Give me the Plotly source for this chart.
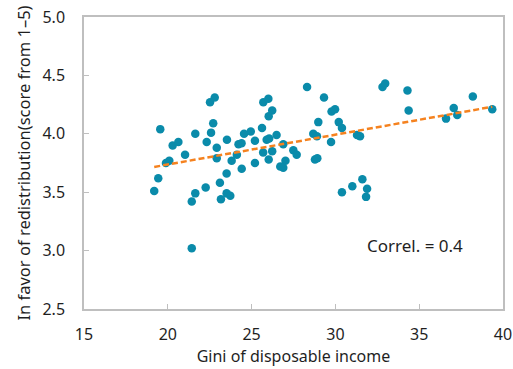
import numpy as np
import plotly.graph_objects as go

gini = [19.19, 19.43, 19.55, 19.89, 20.09, 20.29, 20.63, 21.03, 21.43, 21.43,
        21.64, 21.64, 22.26, 22.32, 22.52, 22.80, 22.58, 22.71, 22.92, 22.92,
        23.11, 23.17, 23.51, 23.51, 23.73, 23.53, 23.81, 24.12, 24.22, 24.40,
        24.41, 24.55, 24.95, 25.20, 25.20, 25.62, 25.70, 26.00, 26.23, 26.02,
        25.90, 26.05, 25.69, 26.23, 26.02, 26.49, 26.89, 27.02, 26.71, 26.89,
        27.49, 27.69, 28.31, 29.32, 28.98, 28.68, 28.90, 28.78, 28.92, 29.74,
        29.77, 29.98, 30.20, 30.39, 31.29, 31.47, 30.39, 31.01, 31.61, 31.89,
        31.83, 32.81, 32.97, 34.30, 34.37, 36.60, 37.06, 37.27, 38.20, 39.36]
redistribution = [3.51, 3.62, 4.04, 3.75, 3.77, 3.90, 3.93, 3.82, 3.42, 3.02,
                  3.49, 4.00, 3.54, 3.93, 4.27, 4.31, 4.01, 4.09, 3.88, 3.79,
                  3.58, 3.44, 3.66, 3.49, 3.47, 3.95, 3.77, 3.82, 3.91, 3.92,
                  3.70, 4.00, 4.02, 3.94, 3.75, 4.05, 4.27, 4.30, 4.20, 4.15,
                  3.95, 3.96, 3.84, 3.85, 3.78, 3.99, 3.91, 3.77, 3.72, 3.71,
                  3.86, 3.82, 4.40, 4.31, 4.10, 4.00, 3.98, 3.78, 3.79, 3.93,
                  4.19, 4.21, 4.10, 4.05, 3.99, 3.98, 3.50, 3.55, 3.61, 3.53,
                  3.46, 4.40, 4.43, 4.37, 4.20, 4.13, 4.22, 4.16, 4.32, 4.21]

x_ticks = [15, 20, 25, 30, 35, 40]
y_ticks = [2.5, 3.0, 3.5, 4.0, 4.5, 5.0]
correl_label = "Correl. = 0.4"

xa = np.array(gini)
ya = np.array(redistribution)
slope, intercept = np.polyfit(xa, ya, 1)
trend_x = np.array([xa.min(), xa.max()])
trend_y = slope * trend_x + intercept

FONT = "Noto Sans"
GRAY = "#BFBFBF"
TXT = "#1F1F1F"

fig = go.Figure()
fig.add_trace(go.Scatter(x=gini, y=redistribution, mode="markers",
                         marker=dict(size=8.5, color="#0A8BAA"),
                         showlegend=False, hoverinfo="x+y"))
fig.add_trace(go.Scatter(x=trend_x, y=trend_y, mode="lines",
                         line=dict(color="#F5821F", width=2.5, dash="6px,3px"),
                         showlegend=False, hoverinfo="skip"))

fig.add_annotation(x=34.75, y=3.04, xref="x", yref="y", text=correl_label,
                   showarrow=False, font=dict(family=FONT, size=17, color=TXT))

fig.update_layout(
    width=513, height=369,
    margin=dict(l=84, r=10, t=17, b=60, autoexpand=False),
    paper_bgcolor="white", plot_bgcolor="white",
    font=dict(family=FONT, size=16, color=TXT),
)
fig.update_xaxes(range=[15, 40], tickvals=x_ticks, ticktext=[str(v) for v in x_ticks],
                 showgrid=False, zeroline=False, showline=True, linecolor=GRAY,
                 linewidth=1.5, mirror=True, ticks="inside", ticklen=5,
                 tickcolor=GRAY, ticklabelstandoff=10, automargin=False,
                 tickfont=dict(family=FONT, size=16, color=TXT),
                 title=dict(text="Gini of disposable income", standoff=6,
                            font=dict(family=FONT, size=16, color=TXT)))
fig.update_yaxes(range=[2.5, 5.0], tickvals=y_ticks, ticktext=[f"{v:.1f}" for v in y_ticks],
                 showgrid=False, zeroline=False, showline=True, linecolor=GRAY,
                 linewidth=1.5, mirror=True, ticks="inside", ticklen=5,
                 tickcolor=GRAY, ticklabelstandoff=14, automargin=False,
                 tickfont=dict(family=FONT, size=16, color=TXT),
                 title=dict(text="In favor of redistribution(score from 1\u20135)", standoff=8,
                            font=dict(family=FONT, size=16.5, color=TXT)))

fig.write_html("out.html", config={"displayModeBar": False},
               post_script="document.body.style.margin='0px';document.body.style.overflow='hidden';")
